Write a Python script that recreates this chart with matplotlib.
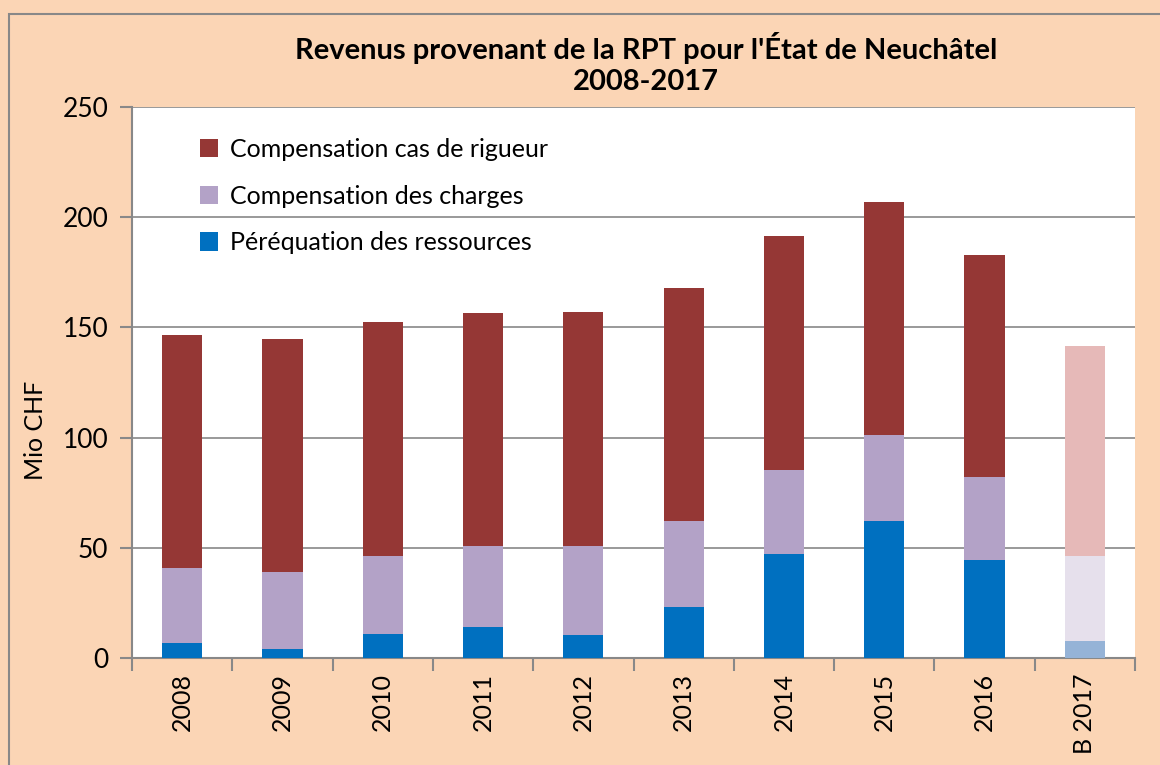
import matplotlib.pyplot as plt
from matplotlib.patches import Rectangle
import numpy as np

plt.rcParams['font.family'] = ['Lato', 'DejaVu Sans']

years = ['2008', '2009', '2010', '2011', '2012', '2013', '2014', '2015', '2016', 'B 2017']
ressources = [6.8, 4.1, 10.9, 14.1, 10.4, 23.1, 47.2, 62.2, 44.5, 7.7]
charges = [34.0, 34.9, 35.4, 36.7, 40.4, 39.1, 38.1, 39.0, 37.6, 38.6]
rigueur = [105.7, 105.7, 106.1, 105.7, 106.2, 105.7, 106.2, 105.7, 100.7, 95.3]

col_res = ['#0070C0'] * 9 + ['#95B3D7']
col_cha = ['#B3A2C7'] * 9 + ['#E6E0EC']
col_rig = ['#953735'] * 9 + ['#E6B9B8']

bg = '#FBD5B5'
fig = plt.figure(figsize=(11.6, 7.65), dpi=100, facecolor=bg)
ax = fig.add_axes([132 / 1160, 107 / 765, 1003 / 1160, 551 / 765])
ax.set_facecolor('white')

x = np.arange(len(years))
w = 0.4
ax.bar(x, ressources, w, color=col_res, label='Péréquation des ressources', zorder=3)
ax.bar(x, charges, w, bottom=ressources, color=col_cha, label='Compensation des charges', zorder=3)
bot2 = np.array(ressources) + np.array(charges)
ax.bar(x, rigueur, w, bottom=bot2, color=col_rig, label='Compensation cas de rigueur', zorder=3)

ax.set_xlim(-0.5, len(years) - 0.5)
ax.set_ylim(0, 250)
ax.set_yticks(range(0, 251, 50))
ax.grid(axis='y', color='#888888', linewidth=1.2, zorder=1)
ax.set_xticks(x)
ax.set_xticklabels(years, rotation=90, fontsize=18)
ax.set_xticks(np.arange(-0.5, len(years), 1), minor=True)
ax.tick_params(axis='x', which='major', length=0, pad=11)
ax.tick_params(axis='x', which='minor', length=9, color='#888888', width=1.5)
ax.tick_params(axis='y', length=9, color='#888888', width=1.5, labelsize=19, pad=8)
for s in ['top', 'right']:
    ax.spines[s].set_visible(False)
for s in ['left', 'bottom']:
    ax.spines[s].set_color('#888888')
    ax.spines[s].set_linewidth(1.5)

ax.set_ylabel('Mio CHF', fontsize=18)
ax.yaxis.set_label_coords(-0.085, 0.414)

h, l = ax.get_legend_handles_labels()
leg = ax.legend(h[::-1], l[::-1], loc='upper left', bbox_to_anchor=(0.045, 0.985),
                frameon=False, fontsize=18, handlelength=0.75, handleheight=0.75,
                labelspacing=0.95, handletextpad=0.45)

fig.text(0.557, 0.917, "Revenus provenant de la RPT pour l'État de Neuchâtel\n2008-2017",
         ha='center', va='center', fontsize=21, fontweight='bold', linespacing=1.2)

fig.patches.append(Rectangle((9 / 1160, -0.1), 1.2, 1 - 14 / 765 + 0.1,
                             transform=fig.transFigure, fill=False,
                             edgecolor='#888888', linewidth=1.5))

fig.savefig('out.png', dpi=100, facecolor=bg)
